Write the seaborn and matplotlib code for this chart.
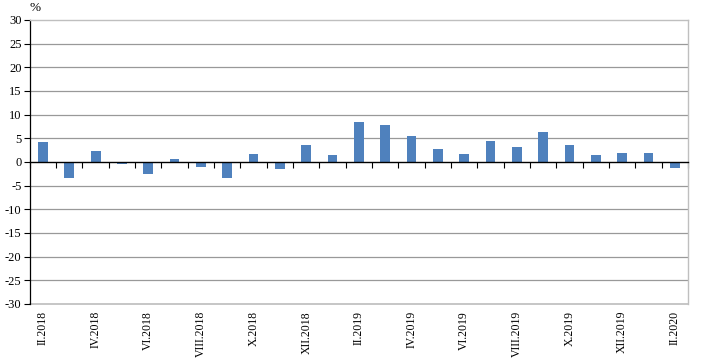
import matplotlib
matplotlib.use("Agg")
import matplotlib.pyplot as plt
import seaborn as sns
import pandas as pd

# Données (variation mensuelle, %)
mois = ["II.2018", "III.2018", "IV.2018", "V.2018", "VI.2018", "VII.2018",
        "VIII.2018", "IX.2018", "X.2018", "XI.2018", "XII.2018", "I.2019",
        "II.2019", "III.2019", "IV.2019", "V.2019", "VI.2019", "VII.2019",
        "VIII.2019", "IX.2019", "X.2019", "XI.2019", "XII.2019", "I.2020",
        "II.2020"]
valeurs = [4.2, -3.5, 2.2, -0.5, -2.5, 0.7, -1.1, -3.5, 1.6, -1.6, 3.5, 1.4,
           8.4, 7.7, 5.4, 2.8, 1.6, 4.5, 3.1, 6.4, 3.5, 1.4, 1.8, 1.8, -1.2]
y_ticks = list(range(-30, 31, 5))

df = pd.DataFrame({"mois": mois, "valeur": valeurs})

sns.set_theme(style="white")
plt.rcParams["font.family"] = ["Liberation Serif", "DejaVu Serif"]
plt.rcParams["text.color"] = "black"
plt.rcParams["xtick.color"] = "black"
plt.rcParams["ytick.color"] = "black"

fig, ax = plt.subplots(figsize=(7.1, 3.61), dpi=100)
fig.subplots_adjust(left=0.042, right=0.969, top=0.945, bottom=0.158)

sns.barplot(data=df, x="mois", y="valeur", color="#4F81BD", width=0.37,
            saturation=1, linewidth=0, edgecolor="none", ax=ax)

ax.set_ylim(-30, 30)
ax.set_xlim(-0.5, len(mois) - 0.5)
ax.set_yticks(y_ticks)
ax.set_yticklabels([str(v) for v in y_ticks], fontsize=9)
ax.tick_params(axis="y", direction="out", length=4, width=0.8, color="black",
               left=True, pad=2)
ax.set_xlabel("")
ax.set_ylabel("")

# grille horizontale
for v in y_ticks:
    if v not in (0, -30, 30):
        ax.axhline(v, color="#999999", lw=0.9, zorder=0)

# bordures
ax.spines["left"].set_color("black")
ax.spines["left"].set_linewidth(0.9)
for s in ("top", "right"):
    ax.spines[s].set_color("#BFBFBF")
    ax.spines[s].set_linewidth(1)

# axe des x sur la ligne zéro avec les graduations entre les mois
ax.spines["bottom"].set_position(("data", 0))
ax.spines["bottom"].set_color("black")
ax.spines["bottom"].set_linewidth(1)
ax.spines["bottom"].set_zorder(3)
ax.set_xticks([i - 0.5 for i in range(len(mois) + 1)])
ax.set_xticklabels([])
ax.tick_params(axis="x", bottom=True, direction="out", length=4, width=0.8,
               color="black")

# étiquettes des mois en bas (un mois sur deux)
sec = ax.secondary_xaxis("bottom")
sec.spines["bottom"].set_position(("axes", 0))
sec.spines["bottom"].set_color("#BFBFBF")
sec.set_xticks(list(range(0, len(mois), 2)))
sec.set_xticklabels([mois[i] for i in range(0, len(mois), 2)], rotation=90,
                    fontsize=8.5)
sec.tick_params(axis="x", length=0, pad=5)

ax.text(0, 1.02, "%", transform=ax.transAxes, fontsize=9.5, ha="left",
        va="bottom")

plt.savefig("out.png", dpi=100)
